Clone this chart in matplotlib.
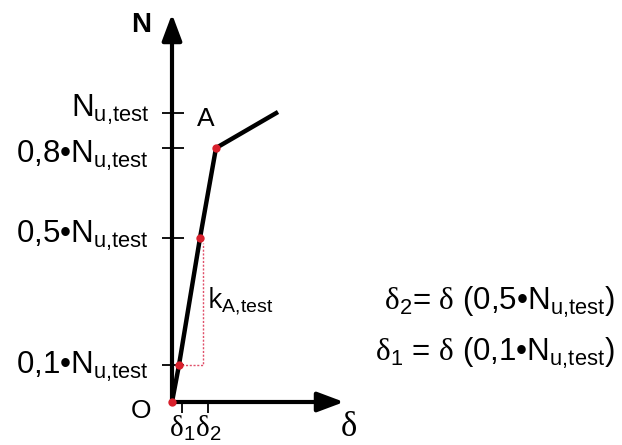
import matplotlib
matplotlib.use("Agg")
import matplotlib.pyplot as plt

plt.rcParams['font.family'] = ['Liberation Sans', 'DejaVu Sans']
plt.rcParams['mathtext.fontset'] = 'custom'
plt.rcParams['mathtext.rm'] = 'Liberation Sans'
plt.rcParams['mathtext.it'] = 'Liberation Sans:italic'
plt.rcParams['mathtext.sf'] = 'Liberation Serif'

# schematic curve (delta, N) in drawing units
curve_d = [0, 7, 28, 44, 106]
curve_N = [0, 37, 164, 254, 290]
red_d = [0, 7, 28, 44]
red_N = [0, 37, 164, 254]

# N-axis ticks and labels
N_ticks = [289, 254, 164, 37]
SUB = r'$_{\mathrm{u{,}test}}$'
N_labels = ['N' + SUB, '0,8•N' + SUB, '0,5•N' + SUB, '0,1•N' + SUB]
N_label_base = [285, 239, 159, 28]

# delta-axis ticks and labels
d_ticks = [10, 36]
d_labels = [r'$\mathsf{\delta}_{\mathrm{1}}$', r'$\mathsf{\delta}_{\mathrm{2}}$']

# secant construction
sec_d = [6, 31, 31]
sec_N = [37, 37, 159]

eq_texts = [r'$\mathsf{\delta}_{\mathrm{2}}$= $\mathsf{\delta}$ (0,5•N' + SUB + ')',
            r'$\mathsf{\delta}_{\mathrm{1}}$ = $\mathsf{\delta}$ (0,1•N' + SUB + ')']

fig = plt.figure(figsize=(6.22, 4.45), dpi=100)
ax = fig.add_axes([0, 0, 1, 1])
ax.set_xlim(-172, 450)
ax.set_ylim(-43, 402)
ax.axis('off')

red = '#d8202c'
# axes arrows
ax.annotate('', xy=(0, 388), xytext=(0, 0),
            arrowprops=dict(arrowstyle='-|>,head_length=0.8,head_width=0.3',
                            lw=3, color='black', mutation_scale=20, shrinkA=0, shrinkB=0))
ax.annotate('', xy=(172, 0), xytext=(0, 0),
            arrowprops=dict(arrowstyle='-|>,head_length=0.8,head_width=0.3',
                            lw=3, color='black', mutation_scale=20, shrinkA=0, shrinkB=0))

# ticks
for t in N_ticks:
    ax.plot([-10, 12], [t, t], color='black', lw=1.3, solid_capstyle='butt')
for t in d_ticks:
    ax.plot([t, t], [0, -11], color='black', lw=1.3, solid_capstyle='butt')

# secant dotted
ax.plot(sec_d, sec_N, color='#e0506a', lw=1.0, ls=(0, (1.5, 1.2)))

# curve
ax.plot(curve_d, curve_N, color='black', lw=3.2, solid_capstyle='butt', solid_joinstyle='miter', zorder=3)
ax.plot(red_d, red_N, 'o', color=red, ms=6, mec='none', zorder=4)

# labels
for lab, b in zip(N_labels, N_label_base):
    ax.text(-23, b, lab, ha='right', va='baseline', fontsize=22.5)
for lab, t in zip(d_labels, d_ticks):
    ax.text(t, -26, lab, ha='center', va='center', fontsize=21)

ax.text(-31, 377, 'N', ha='center', va='center', fontsize=20, fontweight='bold')
ax.text(34, 283, 'A', ha='center', va='center', fontsize=19)
ax.text(-31, -9, 'O', ha='center', va='center', fontsize=19)
ax.text(177, -25, r'$\mathsf{\delta}$', ha='center', va='center', fontsize=25)
ax.text(35, 94, r'k$_{\mathrm{A{,}test}}$', ha='left', va='baseline', fontsize=20,
        family=['Open Sans', 'DejaVu Sans'])

ax.text(443, 100, eq_texts[0], ha='right', va='center', fontsize=22.5)
ax.text(443, 49, eq_texts[1], ha='right', va='center', fontsize=22.5)

fig.savefig('out.png', dpi=100)
